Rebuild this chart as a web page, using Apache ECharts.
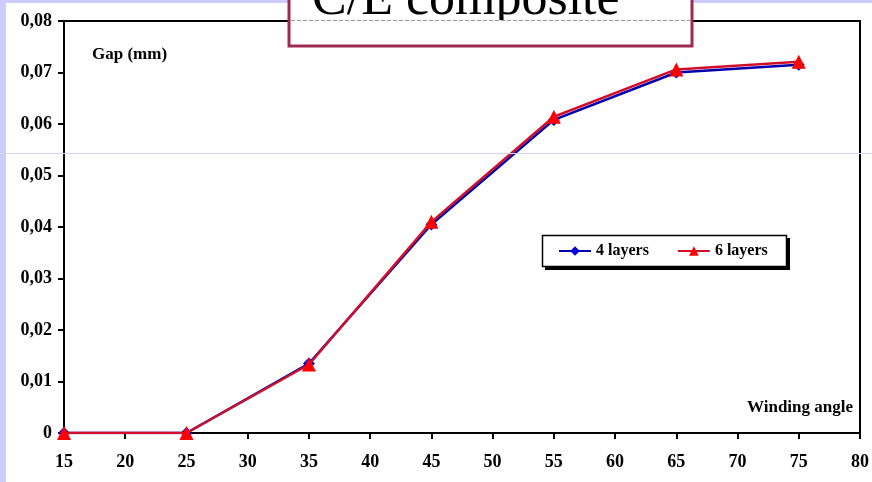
<!DOCTYPE html>
<html><head><meta charset="utf-8">
<script src="https://cdn.jsdelivr.net/npm/echarts@6/dist/echarts.min.js"></script>
<style>html,body{margin:0;padding:0;background:#fff}#c{width:872px;height:482px}</style>
</head><body><div id="c"></div>
<script>
var windingAngles = [15, 25, 35, 45, 55, 65, 75];
var layers4 = [0, 0, 0.0135, 0.0405, 0.0608, 0.0700, 0.0715];
var layers6 = [0, 0, 0.0133, 0.0410, 0.0614, 0.0706, 0.0721];
var seriesNames = ['4 layers', '6 layers'];
var titleText = 'C/E composite';
var yAxisTitle = 'Gap (mm)';
var xAxisTitle = 'Winding angle';

function pairs(xs, ys) { return xs.map(function (x, i) { return [x, ys[i]]; }); }
var serif = '"Liberation Serif", "DejaVu Serif", serif';
var chart = echarts.init(document.getElementById('c'));
chart.setOption({
  backgroundColor: '#fff',
  animation: false,
  grid: { left: 64, right: 8, top: 21, bottom: 49, show: true, borderColor: '#000', borderWidth: 2, backgroundColor: '#fff' },
  xAxis: {
    type: 'value', min: 15, max: 80, interval: 5,
    axisLine: { show: true, lineStyle: { color: '#000', width: 2 } },
    axisTick: { show: true, inside: false, length: 6, lineStyle: { color: '#000', width: 2 } },
    splitLine: { show: false },
    axisLabel: { color: '#000', fontFamily: serif, fontWeight: 'bold', fontSize: 18, margin: 20 }
  },
  yAxis: {
    type: 'value', min: 0, max: 0.08, interval: 0.01,
    axisLine: { show: true, lineStyle: { color: '#000', width: 2 } },
    axisTick: { show: true, inside: false, length: 6, lineStyle: { color: '#000', width: 2 } },
    splitLine: { show: false },
    axisLabel: { color: '#000', fontFamily: serif, fontWeight: 'bold', fontSize: 18, margin: 12,
      formatter: function (v) { return v === 0 ? '0' : v.toFixed(2).replace('.', ','); } }
  },
  legend: {
    left: 542, top: 235, orient: 'horizontal',
    data: seriesNames, z: 20,
    borderWidth: 0,
    padding: [8, 16, 8, 16], itemGap: 28, itemWidth: 32, itemHeight: 12,
    textStyle: { color: '#000', fontFamily: serif, fontWeight: 'bold', fontSize: 16 }
  },
  series: [
    { name: seriesNames[0], type: 'line', data: pairs(windingAngles, layers4),
      symbol: 'diamond', symbolSize: 12, z: 3,
      lineStyle: { color: '#0000B0', width: 2.5 }, itemStyle: { color: '#0000DD' } },
    { name: seriesNames[1], type: 'line', data: pairs(windingAngles, layers6),
      symbol: 'triangle', symbolSize: 14, z: 4,
      lineStyle: { color: '#D0102A', width: 2.5 }, itemStyle: { color: '#FF0000' } }
  ],
  graphic: [
    { type: 'rect', z: 10, shape: { x: 545, y: 238, width: 245, height: 32 }, style: { fill: '#000' } },
    { type: 'rect', z: 11, shape: { x: 542.5, y: 235.5, width: 244, height: 31 }, style: { fill: '#fff', stroke: '#000', lineWidth: 1.5 } },
    { type: 'rect', left: 0, top: 0, shape: { width: 6, height: 482 }, style: { fill: '#CCCCFF' }, z: 100 },
    { type: 'rect', left: 0, top: 0, shape: { width: 872, height: 3 }, style: { fill: '#CCCCFF' }, z: 100 },
    { type: 'line', shape: { x1: 0, y1: 153.5, x2: 872, y2: 153.5 }, style: { stroke: '#D4D4F4', lineWidth: 1 }, z: 100 },
    { type: 'text', left: 92, top: 46, style: { text: yAxisTitle, font: 'bold 17px ' + serif, fill: '#000' }, z: 100 },
    { type: 'text', right: 19, top: 399, style: { text: xAxisTitle, font: 'bold 17px ' + serif, fill: '#000' }, z: 100 },
    { type: 'group', z: 110, children: [
      { type: 'rect', shape: { x: 289, y: -10, width: 403, height: 56 }, style: { fill: '#fff', stroke: '#9E2A50', lineWidth: 3 }, z: 110 },
      { type: 'text', x: 312, y: 0, style: { text: titleText, font: '52px ' + serif, fill: '#000', textVerticalAlign: 'middle', verticalAlign: 'middle' }, z: 111 },
      { type: 'rect', shape: { x: 291, y: 20, width: 399, height: 24 }, style: { fill: '#fff' }, z: 112 },
      { type: 'line', shape: { x1: 291, y1: 20.5, x2: 690, y2: 20.5 }, style: { stroke: '#999', lineWidth: 1, lineDash: [4, 2] }, z: 113 }
    ] }
  ]
});
</script></body></html>
